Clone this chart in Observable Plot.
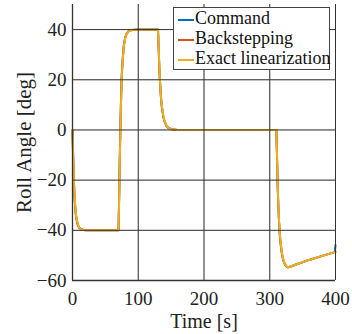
<!DOCTYPE html>
<html><head><meta charset="utf-8">
<script src="https://cdn.jsdelivr.net/npm/d3@7"></script>
<script src="https://cdn.jsdelivr.net/npm/@observablehq/plot@0.6"></script>
<style>
body{margin:0;background:#fff;}
#wrap{position:relative;width:352px;height:334px;font-family:"Liberation Serif","DejaVu Serif",serif;}
#legend{position:absolute;left:173px;top:7px;width:157px;height:63px;border:1px solid #444;background:#fff;box-sizing:border-box;font-size:18px;color:#111;}
.row{position:absolute;left:0;height:21px;line-height:21px;white-space:nowrap;}
.sw{display:inline-block;width:16px;height:1.3px;vertical-align:middle;margin:0 1px 0 4px;}
</style></head><body>
<div id="wrap"><div id="legend"></div></div>
<script>
const seriesNames = ["Command","Backstepping","Exact linearization"];
const seriesColors = ["#0072BD","#D95319","#EDB120"];
const cmdT = [0,1,2,3,4,5,6,8,10,12,14,17,20,70,71,72,73,74,75,76,78,80,82,85,90,100,130,131,132,133,134,135,136,138,140,143,146,150,160,310,311,312,313,314,315,316,318,320,322,324,326,328,332,340,360,380,399,400];
const cmdV = [0,-11,-20,-26,-30.5,-33.5,-35.5,-37.8,-38.9,-39.4,-39.7,-39.9,-40,-40,-26,-10,3,14,22,27,33.5,36.6,38.2,39.3,39.8,40,40,33,25,19.5,15,11.5,9,5.5,3.3,1.6,0.8,0.3,0,0,-10,-22,-30,-36,-40.5,-44,-48.5,-51.3,-53,-54,-54.6,-54.7,-54.4,-53.6,-51.8,-50.2,-48.7,-45.8];
const bsT = [0,1,2,3,4,5,6,8,10,12,14,17,20,70,71,72,73,74,75,76,78,80,82,85,90,100,130,131,132,133,134,135,136,138,140,143,146,150,160,310,311,312,313,314,315,316,318,320,322,324,326,328,332,340,360,380,400];
const bsV = [0,-11,-20,-26,-30.5,-33.5,-35.5,-37.8,-38.9,-39.4,-39.7,-39.9,-40,-40,-26,-10,3,14,22,27,33.5,36.6,38.2,39.3,39.8,40,40,33,25,19.5,15,11.5,9,5.5,3.3,1.6,0.8,0.3,0,0,-10,-22,-30,-36,-40.5,-44,-48.5,-51.3,-53,-54,-54.6,-54.7,-54.4,-53.6,-51.8,-50.2,-48.6];
const elT = [0,1,2,3,4,5,6,8,10,12,14,17,20,70,71,72,73,74,75,76,78,80,82,85,90,100,130,131,132,133,134,135,136,138,140,143,146,150,160,310,311,312,313,314,315,316,318,320,322,324,326,328,332,340,360,380,400];
const elV = [0,-10,-19,-25,-29.5,-33,-35,-37.5,-38.8,-39.4,-39.7,-39.9,-40,-40,-27,-12,1,12,21,26.5,33,36.4,38.1,39.2,39.8,40,40,34,26,20,15.5,12,9.5,5.8,3.5,1.7,0.8,0.3,0,0,-9,-21,-29,-35.5,-40,-43.5,-48,-51,-52.8,-53.8,-54.5,-54.7,-54.4,-53.6,-51.8,-50.2,-48.6];
const xTicks = [0,100,200,300,400];
const yTicks = [-60,-40,-20,0,20,40];

const data = [];
cmdT.forEach((t,i)=>data.push({s:seriesNames[0],t,v:cmdV[i]}));
bsT.forEach((t,i)=>data.push({s:seriesNames[1],t,v:bsV[i]}));
elT.forEach((t,i)=>data.push({s:seriesNames[2],t,v:elV[i]}));

const chart = Plot.plot({
  width:352,height:334,
  marginLeft:72,marginRight:17,marginTop:4,marginBottom:54,
  style:{fontFamily:"Liberation Serif, serif",fontSize:"19px",color:"#222",background:"#fff"},
  x:{domain:[0,400],ticks:xTicks},
  y:{domain:[-60,50],ticks:yTicks},
  color:{domain:seriesNames,range:seriesColors},
  marks:[
    Plot.gridX(xTicks,{stroke:"#e2e2e2",strokeOpacity:1}),
    Plot.gridY(yTicks,{stroke:"#e2e2e2",strokeOpacity:1}),
    Plot.line(data,{x:"t",y:"v",z:"s",stroke:"s",strokeWidth:2,curve:"linear"}),
    Plot.ruleX([0],{stroke:"#333",strokeWidth:1.3}),
    Plot.ruleY([-60],{stroke:"#333",strokeWidth:1.3}),
    Plot.tickX(xTicks,{x:d=>d,y1:-60,y2:-58.6,stroke:"#333"}),
    Plot.tickY(yTicks,{y:d=>d,x1:0,x2:4,stroke:"#333"}),
    Plot.axisX(xTicks,{tickSize:0,tickPadding:11,fontSize:19,label:null,fill:"#222"}),
    Plot.axisY(yTicks,{tickSize:0,tickPadding:6,fontSize:19,label:null,fill:"#222"}),
    Plot.text(["Time [s]"],{frameAnchor:"bottom",dy:47,fontSize:20,fill:"#222"}),
    Plot.text(["Roll Angle [deg]"],{frameAnchor:"left",textAnchor:"middle",dx:-48,rotate:-90,fontSize:21,fill:"#222",letterSpacing:"0.8px"})
  ]
});
document.getElementById("wrap").prepend(chart);
chart.style.position="absolute";chart.style.left="0";chart.style.top="0";
const lg=document.getElementById("legend");
seriesNames.forEach((n,i)=>{
  const r=document.createElement("div");r.className="row";r.style.top=(i*20)+"px";
  r.innerHTML=`<span class="sw" style="background:${seriesColors[i]}"></span>${n}`;
  lg.appendChild(r);
});
</script></body></html>
